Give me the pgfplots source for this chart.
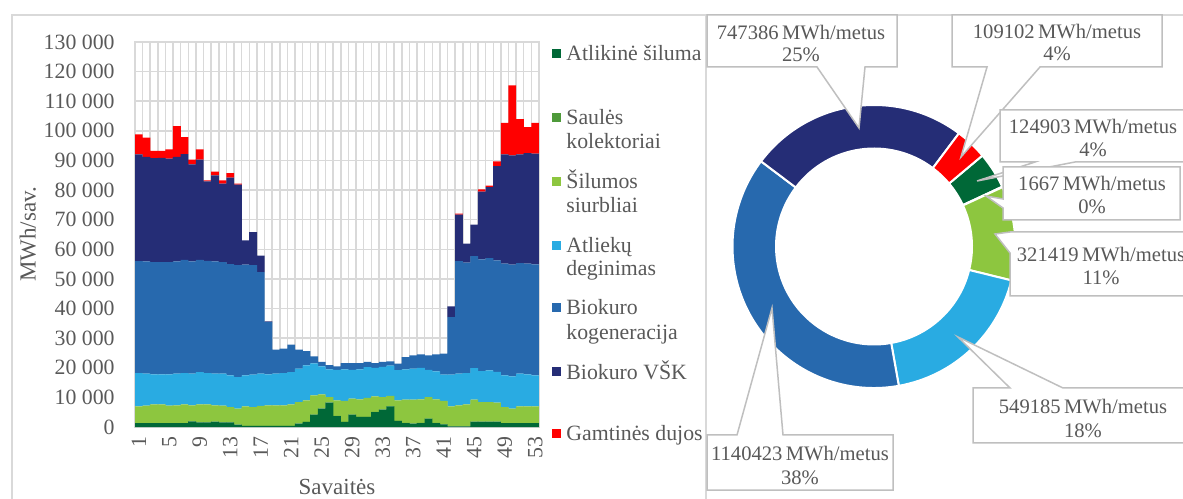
\documentclass[border=0pt]{standalone}
\usepackage{fontspec}
\setmainfont{Liberation Serif}
\usepackage{pgfplots}
\usepackage{pgfplotstable}
\pgfplotsset{compat=1.18}
\usepgflibrary{fpu}

\definecolor{cA}{HTML}{006837}
\definecolor{cS}{HTML}{4E9A3A}
\definecolor{cH}{HTML}{8DC63F}
\definecolor{cW}{HTML}{29ABE2}
\definecolor{cK}{HTML}{2769AE}
\definecolor{cV}{HTML}{252D76}
\definecolor{cG}{HTML}{FF0000}
\definecolor{gridc}{HTML}{D9D9D9}
\definecolor{boxc}{HTML}{BFBFBF}
\definecolor{txtc}{HTML}{595959}

% weekly slices, MWh per week
\pgfplotstableread{
wk A S H W K V G
1 1350 0 5650 11230 37820 36020 6730
2 1350 0 5850 10800 37900 35300 6500
3 1350 0 6300 10150 37900 35100 2400
4 1350 0 6300 10150 37900 35200 2300
5 1350 0 5850 10600 37900 34900 3150
6 1350 0 5950 10700 37900 35300 10400
7 1350 0 6300 10580 38170 35700 5800
8 1900 0 5400 10700 37900 32800 1560
9 1580 0 6070 10920 37830 33860 3490
10 1580 0 6070 10580 37870 26850 350
11 1800 0 5500 10700 37900 29100 1200
12 1580 0 5620 10800 37700 26500 1100
13 1580 0 5170 10700 37550 29200 1560
14 790 0 5410 10680 37820 27100 360
15 340 60 6600 10450 37350 8200 0
16 340 60 6350 10950 37000 11140 0
17 340 60 6700 10900 34300 5550 0
18 340 60 6900 10500 17600 300 0
19 340 60 6900 10700 8100 0 0
20 340 60 6900 10930 8220 0 0
21 340 60 7250 10920 9230 0 0
22 1125 60 7255 11260 6400 0 0
23 1690 60 7250 11800 4860 0 0
24 4160 60 6480 10800 2360 0 0
25 6190 60 4750 9500 1450 0 0
26 8220 60 1820 9400 1400 0 0
27 3700 60 5240 10300 1200 0 0
28 1690 60 7030 10720 2100 0 0
29 4160 60 5350 9730 2300 0 0
30 3380 60 5900 10160 2100 0 0
31 3380 60 6360 10400 1750 0 0
32 5060 60 5230 9650 1600 0 0
33 5850 60 4220 10170 1650 0 0
34 6980 60 3430 10230 1470 0 0
35 2030 60 6910 10200 2200 0 0
36 1350 60 7820 10270 4100 0 0
37 1125 60 8045 10470 4500 0 0
38 1350 60 7930 10660 4500 0 0
39 2810 60 7260 9170 4900 0 0
40 1350 60 7930 9460 5700 0 0
41 900 60 7820 8920 7060 0 0
42 225 0 6755 10720 19440 3560 0
43 225 0 7075 10700 38050 15650 330
44 225 0 7425 10550 37300 6400 0
45 1800 0 7430 10670 37840 10560 0
46 1800 0 6640 10460 37700 22860 740
47 1800 0 6640 10660 37960 23940 500
48 1800 0 6420 10380 37680 31820 1600
49 1350 0 5400 10700 37700 36920 10630
50 1350 0 4840 10910 37710 36890 23660
51 1350 0 5650 11000 37370 36700 11870
52 1350 0 5650 10800 37350 37350 8790
53 1350 0 5650 10450 37480 37370 10400
}\weekly

% annual totals, MWh/metus
\def\dA{124903}
\def\dS{1667}
\def\dH{321419}
\def\dW{549185}
\def\dK{1140423}
\def\dV{747386}
\def\dG{109102}

\begingroup
\pgfkeys{/pgf/fpu=true,/pgf/fpu/output format=fixed}
\pgfmathsetmacro\tot{\dA+\dS+\dH+\dW+\dK+\dV+\dG}
\pgfmathsetmacro\tmp{50}\global\let\aA\tmp
\pgfmathsetmacro\tmp{\aA+360*\dA/\tot}\global\let\aS\tmp
\pgfmathsetmacro\tmp{\aS+360*\dS/\tot}\global\let\aH\tmp
\pgfmathsetmacro\tmp{\aH+360*\dH/\tot}\global\let\aW\tmp
\pgfmathsetmacro\tmp{\aW+360*\dW/\tot}\global\let\aK\tmp
\pgfmathsetmacro\tmp{\aK+360*\dK/\tot}\global\let\aV\tmp
\pgfmathsetmacro\tmp{\aV+360*\dV/\tot}\global\let\aG\tmp
\pgfmathsetmacro\tmp{\aG+360*\dG/\tot}\global\let\aE\tmp
\endgroup

\newcommand\slice[3]{%
  \filldraw[fill=#3,draw=white,line width=1pt]
    ({90-#1}:141.5) arc[start angle={90-#1},end angle={90-#2},radius=141.5]
    -- ({90-#2}:98) arc[start angle={90-#2},end angle={90-#1},radius=98] -- cycle;}

\begin{document}
\begin{tikzpicture}
\useasboundingbox (0,0) rectangle (591.5pt,249pt);
% panel frames (pixel coordinates, y downwards)
\begin{scope}[shift={(0pt,249pt)},x=0.5pt,y=-0.5pt]
\draw[gridc,line width=0.75pt] (12,540) -- (12,15) -- (1200,15);
\draw[gridc,line width=0.75pt] (706,15) -- (706,540);
\end{scope}

\begin{axis}[
  at={(67.5pt,35.5pt)}, anchor=south west,
  scale only axis, width=202pt, height=192.5pt,
  xmin=0.5, xmax=53.5, ymin=0, ymax=130000,
  ybar stacked, bar width=1.03,
  xtick={1,5,...,53},
  minor xtick={0.5,1.5,...,53.5},
  xminorgrids=true, ymajorgrids=true, xmajorgrids=false,
  ytick={0,10000,...,130000},
  grid style={draw=gridc,line width=0.75pt},
  minor grid style={draw=gridc,line width=0.75pt},
  axis line style={draw=gridc,line width=0.75pt},
  major tick length=0pt, minor tick length=0pt,
  tick style={draw=none},
  scaled y ticks=false,
  /pgf/number format/fixed,
  /pgf/number format/precision=0,
  /pgf/number format/assume math mode=true,
  /pgf/number format/1000 sep={\ },
  ticklabel style={font=\fontsize{10.9}{12}\selectfont, text=txtc},
  yticklabel style={anchor=east, inner xsep=10pt, inner ysep=0pt},
  xticklabel style={rotate=90, anchor=east, inner xsep=4.5pt, inner ysep=0pt},
  xlabel={Savaitės},
  ylabel={MWh/sav.},
  xlabel style={at={(axis description cs:0.5,-0.156)}, anchor=center, font=\fontsize{11.5}{13}\selectfont, text=txtc},
  ylabel style={at={(axis description cs:-0.265,0.5)}, anchor=center, font=\fontsize{11.5}{13}\selectfont, text=txtc},
]
\addplot[fill=cA,draw=none] table[x=wk,y=A]{\weekly};
\addplot[fill=cS,draw=none] table[x=wk,y=S]{\weekly};
\addplot[fill=cH,draw=none] table[x=wk,y=H]{\weekly};
\addplot[fill=cW,draw=none] table[x=wk,y=W]{\weekly};
\addplot[fill=cK,draw=none] table[x=wk,y=K]{\weekly};
\addplot[fill=cV,draw=none] table[x=wk,y=V]{\weekly};
\addplot[fill=cG,draw=none] table[x=wk,y=G]{\weekly};
\end{axis}

% legend (pixel coordinates)
\begin{scope}[shift={(0pt,249pt)},x=0.5pt,y=-0.5pt,
  lg/.style={anchor=base west,inner sep=0pt,font=\fontsize{10.9}{12}\selectfont,text=txtc}]
\fill[cA] (552,49.25) rectangle (561,58.25);
\node[lg] at (566,61) {Atlikinė šiluma};
\fill[cS] (552,113.25) rectangle (561,122.25);
\node[lg] at (566,125) {Saulės};
\node[lg] at (566,149) {kolektoriai};
\fill[cH] (552,177.25) rectangle (561,186.25);
\node[lg] at (566,189) {Šilumos};
\node[lg] at (566,213) {siurbliai};
\fill[cW] (552,241.25) rectangle (561,250.25);
\node[lg] at (566,253) {Atliekų};
\node[lg] at (566,276) {deginimas};
\fill[cK] (552,303.25) rectangle (561,312.25);
\node[lg] at (566,315) {Biokuro};
\node[lg] at (566,340) {kogeneracija};
\fill[cV] (552,367.25) rectangle (561,376.25);
\node[lg] at (566,379) {Biokuro VŠK};
\fill[cG] (552,429.25) rectangle (561,438.25);
\node[lg] at (566,441) {Gamtinės dujos};
\end{scope}

% donut
\begin{scope}[shift={(437pt,125.75pt)},x=0.5pt,y=0.5pt]
\slice{\aA}{\aS}{cA}
\slice{\aS}{\aH}{cS}
\slice{\aH}{\aW}{cH}
\slice{\aW}{\aK}{cW}
\slice{\aK}{\aV}{cK}
\slice{\aV}{\aG}{cV}
\slice{\aG}{\aE}{cG}
\end{scope}

% callouts (pixel coordinates)
\begin{scope}[shift={(0pt,249pt)},x=0.5pt,y=-0.5pt,
  co/.style={fill=white,draw=boxc,line width=0.75pt,line join=miter},
  ct/.style={anchor=base,inner sep=0pt,font=\fontsize{10.3}{12}\selectfont,text=txtc}]
% VSK
\filldraw[co] (707,15) -- (897,15) -- (897,67) -- (865,67) -- (859,128) -- (817,67) -- (707,67) -- cycle;
\node[ct] at (801,39.5) {\dV\,MWh/metus};
\node[ct] at (801,62) {25\%};
% Gas
\filldraw[co] (952,15) -- (1162,15) -- (1162,67) -- (1040,67) -- (961,157) -- (987,67) -- (952,67) -- cycle;
\node[ct] at (1057,39) {\dG\,MWh/metus};
\node[ct] at (1057,61) {4\%};
% Atlikine
\filldraw[co] (1000,110) -- (1200,110) -- (1200,162) -- (1075,162) -- (977,181) -- (1035,162) -- (1000,162) -- cycle;
\node[ct] at (1093,133.5) {\dA\,MWh/metus};
\node[ct] at (1093,157) {4\%};
% Saules
\filldraw[co] (1003,167) -- (1180,167) -- (1180,220) -- (1003,220) -- (1003,208) -- (986,196) -- (1003,199) -- cycle;
\node[ct] at (1092,191) {\dS\,MWh/metus};
\node[ct] at (1092,213.5) {0\%};
% Silumos
\filldraw[co] (1010,232) -- (1200,232) -- (1200,296) -- (1010,296) -- (1010,253) -- (995,234) -- cycle;
\node[ct] at (1101,262) {\dH\,MWh/metus};
\node[ct] at (1101,284.5) {11\%};
% Atlieku
\filldraw[co] (973,388) -- (1010,388) -- (958,337) -- (1063,388) -- (1200,388) -- (1200,443) -- (973,443) -- cycle;
\node[ct] at (1083,413.5) {\dW\,MWh/metus};
\node[ct] at (1083,437) {18\%};
% Kogeneracija
\filldraw[co] (707,435) -- (737,435) -- (772,308) -- (783,435) -- (893,435) -- (893,490) -- (707,490) -- cycle;
\node[ct] at (800,460) {\dK\,MWh/metus};
\node[ct] at (800,484) {38\%};
\end{scope}
\end{tikzpicture}
\end{document}
